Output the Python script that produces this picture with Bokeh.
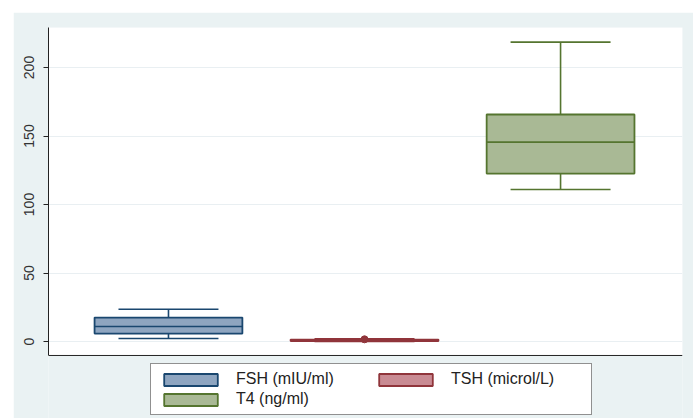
from bokeh.plotting import figure
from bokeh.models import (Range1d, FixedTicker, Legend, LegendItem, ColumnDataSource,
                          BoxAnnotation, Span, Spacer, Grid)
from bokeh.layouts import column, row
from bokeh.embed import file_html
from bokeh.resources import INLINE

# ---- data ----
series = ["FSH (mIU/ml)", "TSH (microl/L)", "T4 (ng/ml)"]
positions = [1, 2, 3]
lower_whisker = [2.2, 0.1, 111.0]
q1 = [5.8, 0.3, 122.6]
median = [11.0, 0.8, 145.5]
q3 = [17.5, 1.4, 165.7]
upper_whisker = [23.5, 2.0, 218.5]
outlier_x = [2]
outlier_y = [1.6]
y_ticks = [0, 50, 100, 150, 200]
y_min, y_max = -10.2, 229.2

fills = ["#8ea5c0", "#c98b93", "#a9b995"]
lines = ["#1a476f", "#90353b", "#55752f"]

BOX_HALF = 0.377
CAP_HALF = 0.255

# frame extends below the plot region so the legend can sit inside it
p = figure(width=680, height=406, output_backend="svg", toolbar_location=None,
           x_axis_location=None,
           x_range=Range1d(0.388, 3.622), y_range=Range1d(-56.2, y_max),
           min_border_left=35, min_border_right=11, min_border_top=15, min_border_bottom=0)
p.background_fill_color = "#eaf2f3"
p.border_fill_color = "#eaf2f3"
p.outline_line_color = None

for g in p.center:
    if isinstance(g, Grid) and g.dimension == 0:
        g.visible = False

# white plot region
p.add_layout(BoxAnnotation(bottom=y_min, fill_color="white", fill_alpha=1,
                           line_color=None, level="image"))
# bottom axis line
p.add_layout(Span(location=y_min, dimension="width", line_color="#222222", line_width=1))

src = ColumnDataSource(dict(
    x=positions,
    left=[x - BOX_HALF for x in positions],
    right=[x + BOX_HALF for x in positions],
    capl=[x - CAP_HALF for x in positions],
    capr=[x + CAP_HALF for x in positions],
    lo=lower_whisker, q1=q1, med=median, q3=q3, hi=upper_whisker,
    fill=fills, line=lines, name=series,
))

# whiskers
p.segment(x0="x", y0="q3", x1="x", y1="hi", source=src, line_color="line", line_width=1.6)
p.segment(x0="x", y0="q1", x1="x", y1="lo", source=src, line_color="line", line_width=1.6)
p.segment(x0="capl", y0="hi", x1="capr", y1="hi", source=src, line_color="line", line_width=1.6)
p.segment(x0="capl", y0="lo", x1="capr", y1="lo", source=src, line_color="line", line_width=1.6)

renderers = []
for i in range(3):
    r = p.quad(left=[positions[i] - BOX_HALF], right=[positions[i] + BOX_HALF],
               bottom=[q1[i]], top=[q3[i]], fill_color=fills[i], line_color=lines[i],
               line_width=1.8)
    renderers.append(r)
p.segment(x0="left", y0="med", x1="right", y1="med", source=src, line_color="line", line_width=1.6)
p.scatter(x=outlier_x, y=outlier_y, size=7, fill_color=lines[1], line_color=lines[1])

# y axis
p.yaxis.bounds = (y_min, y_max)
p.yaxis.ticker = FixedTicker(ticks=y_ticks)
p.yaxis.major_label_orientation = "vertical"
p.yaxis.major_label_text_font = "Liberation Sans"
p.yaxis.major_label_text_font_size = "14px"
p.yaxis.major_label_text_color = "#333333"
p.yaxis.major_tick_out = 5
p.yaxis.major_tick_in = 0
p.yaxis.minor_tick_line_color = None
p.yaxis.major_label_standoff = 9
p.yaxis.axis_line_color = "#222222"
p.yaxis.major_tick_line_color = "#222222"

p.ygrid.grid_line_color = "#e9eff2"
p.ygrid.ticker = FixedTicker(ticks=y_ticks)

legend = Legend(items=[
    LegendItem(label=series[0], renderers=[renderers[0]]),
    LegendItem(label=series[1], renderers=[renderers[1]]),
    LegendItem(label=series[2], renderers=[renderers[2]]),
], location=(102, 3), orientation="horizontal", ncols=2)
legend.glyph_width = 67
legend.glyph_height = 15
legend.label_width = 134
legend.label_height = 18
legend.label_standoff = 12
legend.spacing = 2
legend.padding = 6
legend.margin = 0
legend.label_text_font = "Liberation Sans"
legend.label_text_font_size = "16px"
legend.label_text_color = "#222222"
legend.border_line_color = "#222222"
legend.border_line_width = 1
legend.background_fill_color = "white"
legend.background_fill_alpha = 1
p.add_layout(legend, "center")

page = column(Spacer(width=697, height=12), row(Spacer(width=13, height=406), p))

open("out.html", "w").write(file_html(page, INLINE))
